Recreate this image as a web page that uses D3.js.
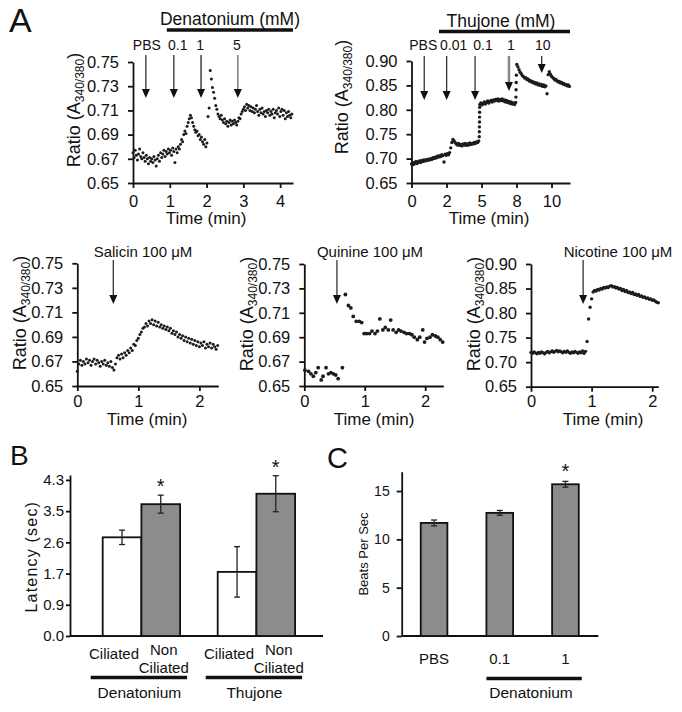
<!DOCTYPE html>
<html>
<head>
<meta charset="utf-8">
<script src="https://cdn.jsdelivr.net/npm/d3@7"></script>
<style>
  body { margin: 0; background: #fff; }
  svg { display: block; }
  text { font-family: "Liberation Sans", Arial, sans-serif; fill: #111; }
</style>
</head>
<body>
<svg id="fig" width="682" height="712"></svg>
<script>
// ---------- data: calcium traces (ratio A340/380, sampled at a fixed step in min) ----------
const denatStep = 0.03;
const denatRatio = [
  0.675,0.671,0.677,0.673,0.669,0.674,0.678,0.672,0.670,0.675,
  0.671,0.668,0.673,0.670,0.666,0.671,0.668,0.670,0.667,0.672,
  0.669,0.664,0.670,0.673,0.668,0.675,0.671,0.674,0.677,0.672,
  0.676,0.674,0.678,0.675,0.677,0.673,0.679,0.676,0.667,0.678,
  0.675,0.680,0.678,0.682,0.686,0.684,0.690,0.693,0.691,0.697,
  0.700,0.703,0.706,0.704,0.700,0.697,0.694,0.692,0.693,0.689,
  0.690,0.686,0.688,0.684,0.682,0.686,0.680,0.683,0.705,0.712,
  0.743,0.736,0.729,0.725,0.720,0.714,0.711,0.707,0.705,0.703,
  0.706,0.702,0.700,0.703,0.699,0.701,0.697,0.700,0.702,0.698,
  0.701,0.699,0.702,0.700,0.698,0.701,0.704,0.703,0.707,0.709,
  0.711,0.713,0.710,0.715,0.712,0.714,0.710,0.713,0.709,0.712,
  0.708,0.711,0.714,0.709,0.706,0.711,0.708,0.712,0.707,0.709,
  0.705,0.710,0.708,0.711,0.706,0.709,0.707,0.711,0.704,0.708,
  0.710,0.707,0.712,0.705,0.709,0.711,0.706,0.710,0.703,0.708,
  0.705,0.709,0.706,0.704,0.707
];
const denatArrowTimes = [0.35, 1.11, 1.85, 2.85];
const denatArrowLabels = ["PBS", "0.1", "1", "5"];

const thujStep = 0.08;
const thujRatio = [
  0.689,0.692,0.688,0.691,0.694,0.690,0.693,0.695,0.692,0.696,
  0.694,0.697,0.695,0.698,0.696,0.699,0.697,0.700,0.698,0.702,
  0.700,0.703,0.701,0.705,0.703,0.706,0.704,0.708,0.706,0.693,
  0.709,0.707,0.710,0.708,0.712,0.722,0.733,0.739,0.736,0.733,
  0.730,0.728,0.731,0.727,0.729,0.726,0.730,0.728,0.731,0.727,
  0.730,0.728,0.732,0.729,0.731,0.730,0.733,0.731,0.734,0.733,
  0.736,0.811,0.814,0.810,0.813,0.816,0.812,0.815,0.818,0.814,
  0.817,0.819,0.816,0.820,0.818,0.821,0.819,0.822,0.818,0.821,
  0.819,0.822,0.818,0.820,0.816,0.819,0.815,0.817,0.813,0.816,
  0.812,0.814,0.811,0.815,0.893,0.888,0.882,0.877,0.874,0.870,
  0.868,0.865,0.866,0.862,0.863,0.859,0.860,0.857,0.858,0.855,
  0.856,0.853,0.855,0.851,0.853,0.850,0.852,0.848,0.851,0.847,
  0.849,0.833,0.872,0.878,0.873,0.869,0.866,0.864,0.861,0.862,
  0.859,0.857,0.858,0.855,0.856,0.853,0.854,0.851,0.852,0.849,
  0.851,0.848
];
// fast samples recorded during the two step rises
const thujJumpTime  = [4.84, 4.845, 4.85, 4.855, 4.86, 4.865, 4.87, 7.46, 7.47, 7.48, 7.49];
const thujJumpRatio = [0.745, 0.755, 0.765, 0.775, 0.785, 0.795, 0.805, 0.826, 0.841, 0.856, 0.871];
const thujArrowTimes = [0.91, 2.51, 4.54, 6.96, 9.30];
const thujArrowLabels = ["PBS", "0.01", "0.1", "1", "10"];
const thujXTicks = [0, 2.5, 5, 7.5, 10];
const thujXTickLabels = ["0", "2", "5", "8", "10"];

const salicinStep = 0.025;
const salicinRatio = [
  0.662,0.668,0.671,0.667,0.670,0.668,0.672,0.669,0.671,0.667,
  0.670,0.672,0.668,0.671,0.669,0.666,0.670,0.668,0.671,0.667,
  0.669,0.666,0.670,0.665,0.663,0.668,0.673,0.675,0.672,0.676,
  0.673,0.677,0.675,0.679,0.677,0.681,0.679,0.684,0.683,0.687,
  0.689,0.692,0.694,0.697,0.698,0.701,0.699,0.703,0.701,0.704,
  0.700,0.703,0.699,0.702,0.698,0.700,0.697,0.699,0.696,0.698,
  0.695,0.697,0.693,0.695,0.692,0.694,0.690,0.692,0.689,0.691,
  0.687,0.690,0.686,0.689,0.685,0.688,0.684,0.687,0.683,0.686,
  0.682,0.685,0.683,0.686,0.681,0.684,0.682,0.685,0.681,0.684,
  0.682,0.680,0.683
];

const quinineTime = [
  0.01,0.07,0.11,0.15,0.19,0.23,0.28,0.31,0.36,0.40,0.44,0.48,0.52,0.56,0.63,
  0.68,0.73,0.77,0.81,0.86,0.91,0.95,0.99,1.03,1.08,1.12,1.17,1.21,1.25,1.30,
  1.34,1.39,1.43,1.47,1.52,1.56,1.60,1.65,1.69,1.74,1.78,1.82,1.87,1.91,1.96,
  1.99,2.03,2.08,2.12,2.17,2.21,2.25,2.29
];
const quinineRatio = [
  0.663,0.662,0.660,0.658,0.661,0.665,0.655,0.658,0.665,0.660,0.661,0.660,0.659,0.656,0.665,
  0.725,0.716,0.714,0.707,0.703,0.703,0.702,0.693,0.693,0.693,0.695,0.693,0.695,0.705,0.696,
  0.698,0.696,0.704,0.696,0.694,0.696,0.695,0.694,0.693,0.693,0.692,0.690,0.688,0.690,0.696,
  0.686,0.689,0.690,0.692,0.691,0.690,0.688,0.686
];

const nicotineStep = 0.025;
const nicotineRatio = [
  0.720,0.718,0.721,0.719,0.717,0.720,0.718,0.721,0.719,0.717,
  0.720,0.722,0.719,0.721,0.723,0.720,0.722,0.724,0.721,0.723,
  0.721,0.719,0.722,0.720,0.723,0.720,0.718,0.721,0.719,0.722,
  0.720,0.718,0.721,0.719,0.723,0.718,0.722,0.742,0.788,0.812,
  0.829,0.843,0.846,0.845,0.848,0.847,0.850,0.849,0.852,0.851,
  0.853,0.852,0.855,0.856,0.853,0.854,0.851,0.852,0.849,0.850,
  0.846,0.848,0.844,0.846,0.842,0.843,0.840,0.842,0.838,0.839,
  0.836,0.838,0.834,0.835,0.832,0.833,0.830,0.831,0.828,0.829,
  0.826,0.827,0.824,0.822,0.821
];

const ratioTicksLow  = [0.65, 0.67, 0.69, 0.71, 0.73, 0.75];
const ratioTicksHigh = [0.65, 0.70, 0.75, 0.80, 0.85, 0.90];

// ---------- data: panel B (latency) ----------
const latencyGroups = ["Denatonium", "Thujone"];
const latencyCells  = ["Ciliated", "Non Ciliated"];
const latencyMean = [[2.74, 3.66], [1.78, 3.95]];
const latencyErr  = [[0.20, 0.25], [0.70, 0.50]];
const latencySig  = [[false, true], [false, true]];
const latencyTicks = [0, 0.8667, 1.7333, 2.6, 3.4667, 4.3333];
const latencyTickLabels = ["0.0", "0.9", "1.7", "2.6", "3.5", "4.3"];

// ---------- data: panel C (beat frequency) ----------
const beatCats = ["PBS", "0.1", "1"];
const beatMean = [11.7, 12.74, 15.7];
const beatErr  = [0.30, 0.25, 0.30];
const beatSig  = [false, false, true];
const beatTicks = [0, 5, 10, 15];

// ---------- drawing ----------
const svg = d3.select("#fig");
const INK = "#111";
const DOT = "#1c1c1c";

function sampled(values, step) {
  return values.map((v, i) => [i * step, v]);
}

function arrow(g, x, yTop, yTip, color, width) {
  g.append("line")
    .attr("x1", x).attr("x2", x)
    .attr("y1", yTop).attr("y2", yTip - 7)
    .attr("stroke", color).attr("stroke-width", width);
  g.append("path")
    .attr("d", `M${x - 4},${yTip - 9}L${x + 4},${yTip - 9}L${x},${yTip}Z`)
    .attr("fill", INK);
}

function tracePanel(p) {
  const x = d3.scaleLinear().domain(p.xDomain).range(p.xRange);
  const y = d3.scaleLinear().domain(p.yDomain).range(p.yRange);
  const g = svg.append("g");

  const xAxis = d3.axisBottom(x).tickValues(p.xTicks).tickSize(5)
    .tickPadding(p.xPad).tickSizeOuter(0)
    .tickFormat((d, i) => p.xTickLabels ? p.xTickLabels[i] : d3.format("d")(d));
  const yAxis = d3.axisLeft(y).tickValues(p.yTicks).tickSize(5)
    .tickPadding(9).tickSizeOuter(0).tickFormat(d3.format(".2f"));

  const gx = g.append("g").attr("transform", `translate(0,${p.yRange[0]})`).call(xAxis);
  const gy = g.append("g").attr("transform", `translate(${p.xRange[0]},0)`).call(yAxis);
  [gx, gy].forEach(a => {
    a.selectAll(".domain, .tick line").attr("stroke", INK).attr("stroke-width", 1.8);
    a.selectAll(".tick text").attr("font-size", 16.5)
      .attr("font-family", "Liberation Sans, Arial, sans-serif").attr("fill", INK);
  });

  // points
  g.append("g").selectAll("circle")
    .data(p.points)
    .join("circle")
    .attr("cx", d => x(d[0]))
    .attr("cy", d => y(d[1]))
    .attr("r", p.r || 1.5)
    .attr("fill", DOT);

  // axis titles
  g.append("text")
    .attr("x", p.titleX).attr("y", p.titleY)
    .attr("text-anchor", "middle").attr("font-size", 17)
    .text("Time (min)");

  const yl = g.append("text")
    .attr("transform", `translate(${p.ylabX},${p.ylabY}) rotate(-90)`)
    .attr("text-anchor", "middle").attr("font-size", 18);
  yl.append("tspan").text("Ratio (A");
  yl.append("tspan").attr("font-size", 12).attr("dy", 4).text("340/380");
  yl.append("tspan").attr("dy", -4).text(")");

  // stimulus arrows
  p.arrows.forEach((t, i) => {
    const ax = x(t);
    const tip = p.arrowTips[i];
    arrow(g, ax, p.arrowTop, tip, p.arrowColors ? p.arrowColors[i] : "#333",
      p.arrowWidths ? p.arrowWidths[i] : 1.3);
    if (p.arrowLabels) {
      g.append("text")
        .attr("x", ax + (p.labelDx ? p.labelDx[i] : 0)).attr("y", p.labelY)
        .attr("text-anchor", "middle").attr("font-size", 14)
        .text(p.arrowLabels[i]);
    }
  });

  if (p.stimText) {
    g.append("text")
      .attr("x", p.stimX).attr("y", p.stimY)
      .attr("text-anchor", "middle").attr("font-size", 15)
      .text(p.stimText);
  }
  if (p.header) {
    g.append("text")
      .attr("x", p.headerX).attr("y", p.headerY)
      .attr("text-anchor", "middle").attr("font-size", 17.5)
      .text(p.header);
    g.append("line")
      .attr("x1", x(p.headerSpan[0])).attr("x2", x(p.headerSpan[1]))
      .attr("y1", p.headerBarY).attr("y2", p.headerBarY)
      .attr("stroke", INK).attr("stroke-width", 3.5);
  }
  return { x, y };
}

// Panel A, top row
tracePanel({
  points: sampled(denatRatio, denatStep),
  xDomain: [0, 4.35], xRange: [133, 293],
  yDomain: [0.65, 0.75], yRange: [183, 62],
  xTicks: [0, 1, 2, 3, 4], yTicks: ratioTicksLow, xPad: 7,
  titleX: 206, titleY: 224, ylabX: 80, ylabY: 110,
  arrows: denatArrowTimes, arrowLabels: denatArrowLabels,
  arrowTop: 55, arrowTips: [98, 98, 98, 98], labelY: 50, labelDx: [1, 4, -1, -1],
  arrowColors: ["#333", "#333", "#222", "#666"],
  header: "Denatonium (mM)", headerX: 230, headerY: 25,
  headerSpan: [0.92, 4.35], headerBarY: 30
});

tracePanel({
  points: sampled(thujRatio, thujStep).concat(thujJumpTime.map((t, i) => [t, thujJumpRatio[i]])),
  xDomain: [0, 11.32], xRange: [411.5, 570],
  yDomain: [0.65, 0.90], yRange: [183, 61],
  xTicks: thujXTicks, xTickLabels: thujXTickLabels, yTicks: ratioTicksHigh, xPad: 7,
  r: 1.7,
  titleX: 489, titleY: 224, ylabX: 348, ylabY: 97,
  arrows: thujArrowTimes, arrowLabels: thujArrowLabels,
  arrowTop: 56, arrowTips: [100, 100, 100, 91, 73], labelY: 50, labelDx: [-1, 7, 8, 2, 1],
  arrowColors: ["#333", "#333", "#333", "#8a8a8a", "#333"],
  arrowWidths: [1.3, 1.3, 1.3, 2.6, 1.3],
  header: "Thujone (mM)", headerX: 501, headerY: 27,
  headerSpan: [1.96, 11.32], headerBarY: 31.5
});

// Panel A, bottom row
tracePanel({
  points: sampled(salicinRatio, salicinStep),
  xDomain: [0, 2.31], xRange: [77.3, 218.3],
  yDomain: [0.65, 0.75], yRange: [386, 263.3],
  xTicks: [0, 1, 2], yTicks: ratioTicksLow, xPad: 4,
  titleX: 147, titleY: 425, ylabX: 26, ylabY: 313,
  arrows: [0.59], arrowTop: 260, arrowTips: [304],
  stimText: "Salicin 100 μM", stimX: 143, stimY: 257
});

tracePanel({
  points: quinineTime.map((t, i) => [t, quinineRatio[i]]),
  xDomain: [0, 2.3], xRange: [304.3, 443.3],
  yDomain: [0.65, 0.75], yRange: [386, 264],
  xTicks: [0, 1, 2], yTicks: ratioTicksLow, xPad: 4, r: 1.9,
  titleX: 374, titleY: 425, ylabX: 253, ylabY: 314,
  arrows: [0.54], arrowTop: 260, arrowTips: [304],
  stimText: "Quinine 100 μM", stimX: 370, stimY: 257
});

tracePanel({
  points: sampled(nicotineRatio, nicotineStep),
  xDomain: [0, 2.1], xRange: [531, 658.3],
  yDomain: [0.65, 0.90], yRange: [386.7, 264],
  xTicks: [0, 1, 2], yTicks: ratioTicksHigh, xPad: 4, r: 1.7,
  titleX: 603, titleY: 425, ylabX: 480, ylabY: 314,
  arrows: [0.86], arrowTop: 260, arrowTips: [304],
  stimText: "Nicotine 100 μM", stimX: 618, stimY: 257
});

// ---------- Panel B ----------
(function () {
  const g = svg.append("g");
  const y = d3.scaleLinear().domain([0, 4.47]).range([636, 475]);
  const gx0 = d3.scaleBand().domain(latencyGroups).range([83.9, 313.9])
    .paddingInner(0.327).paddingOuter(0.1635);
  const gx1 = d3.scaleBand().domain(latencyCells).range([0, gx0.bandwidth()]);

  const ya = g.append("g").attr("transform", "translate(70,0)")
    .call(d3.axisLeft(y).tickValues(latencyTicks).tickSize(4).tickPadding(2)
      .tickSizeOuter(0).tickFormat((d, i) => latencyTickLabels[i]));
  ya.selectAll(".domain, .tick line").attr("stroke", INK).attr("stroke-width", 1.8);
  ya.selectAll(".tick text").attr("font-size", 15)
    .attr("font-family", "DejaVu Sans, Verdana, sans-serif").attr("fill", INK);

  g.append("line").attr("x1", 70).attr("x2", 323).attr("y1", 636).attr("y2", 636)
    .attr("stroke", INK).attr("stroke-width", 1.8);

  latencyGroups.forEach((grp, gi) => {
    const x0 = gx0(grp);
    latencyCells.forEach((cell, ci) => {
      const bx = x0 + gx1(cell);
      const bw = gx1.bandwidth();
      const m = latencyMean[gi][ci], e = latencyErr[gi][ci];
      g.append("rect")
        .attr("x", bx).attr("y", y(m)).attr("width", bw).attr("height", y(0) - y(m))
        .attr("fill", ci === 0 ? "#ffffff" : "#8c8c8c")
        .attr("stroke", INK).attr("stroke-width", 1.8);
      const cx = bx + bw / 2;
      g.append("line").attr("x1", cx).attr("x2", cx).attr("y1", y(m + e)).attr("y2", y(m - e))
        .attr("stroke", "#222").attr("stroke-width", 1.3);
      [m + e, m - e].forEach(v => g.append("line")
        .attr("x1", cx - 3).attr("x2", cx + 3).attr("y1", y(v)).attr("y2", y(v))
        .attr("stroke", "#222").attr("stroke-width", 1.3));
      if (latencySig[gi][ci]) {
        g.append("text").attr("x", cx).attr("y", y(m + e) - 2)
          .attr("text-anchor", "middle").attr("font-size", 20).text("*");
      }
      const words = cell.split(" ");
      const lx = cx + (ci === 0 ? -8 : 3);
      if (words.length === 1) {
        g.append("text").attr("x", lx).attr("y", 659).attr("text-anchor", "middle")
          .attr("font-size", 15).text(cell);
      } else {
        words.forEach((w, wi) => g.append("text").attr("x", lx).attr("y", 655 + wi * 18)
          .attr("text-anchor", "middle").attr("font-size", 15).text(w));
      }
    });
    g.append("line")
      .attr("x1", x0 - 12).attr("x2", x0 + gx0.bandwidth() + 7)
      .attr("y1", 677.5).attr("y2", 677.5)
      .attr("stroke", INK).attr("stroke-width", 3.5);
    g.append("text").attr("x", x0 + gx0.bandwidth() / 2 - 2).attr("y", 698)
      .attr("text-anchor", "middle").attr("font-size", 15.5)
      .attr("font-family", "DejaVu Sans, Verdana, sans-serif").text(grp);
  });

  g.append("text")
    .attr("transform", "translate(37,556.7) rotate(-90)")
    .attr("text-anchor", "middle").attr("font-size", 16)
    .attr("letter-spacing", 1.2)
    .attr("font-family", "DejaVu Sans, Verdana, sans-serif")
    .text("Latency (sec)");
})();

// ---------- Panel C ----------
(function () {
  const g = svg.append("g");
  const y = d3.scaleLinear().domain([0, 17]).range([636, 471.7]);
  const x = d3.scaleBand().domain(beatCats).range([381.7, 617.8])
    .paddingInner(0.594).paddingOuter(0.594);

  const ya = g.append("g").attr("transform", "translate(401.7,0)")
    .call(d3.axisLeft(y).tickValues(beatTicks).tickSize(5).tickPadding(7)
      .tickSizeOuter(0).tickFormat(d3.format("d")));
  ya.selectAll(".domain, .tick line").attr("stroke", INK).attr("stroke-width", 1.8);
  ya.selectAll(".tick text").attr("font-size", 14)
    .attr("font-family", "DejaVu Sans, Verdana, sans-serif").attr("fill", INK);

  g.append("line").attr("x1", 401.7).attr("x2", 598.3).attr("y1", 636).attr("y2", 636)
    .attr("stroke", INK).attr("stroke-width", 1.8);

  beatCats.forEach((c, i) => {
    const bx = x(c), bw = x.bandwidth();
    const m = beatMean[i], e = beatErr[i];
    g.append("rect")
      .attr("x", bx).attr("y", y(m)).attr("width", bw).attr("height", y(0) - y(m))
      .attr("fill", "#8c8c8c").attr("stroke", INK).attr("stroke-width", 1.8);
    const cx = bx + bw / 2;
    g.append("line").attr("x1", cx).attr("x2", cx).attr("y1", y(m + e)).attr("y2", y(m - e))
      .attr("stroke", "#222").attr("stroke-width", 1.3);
    [m + e, m - e].forEach(v => g.append("line")
      .attr("x1", cx - 3).attr("x2", cx + 3).attr("y1", y(v)).attr("y2", y(v))
      .attr("stroke", "#222").attr("stroke-width", 1.3));
    if (beatSig[i]) {
      g.append("text").attr("x", cx).attr("y", y(m + e) - 3)
        .attr("text-anchor", "middle").attr("font-size", 20).text("*");
    }
    g.append("text").attr("x", cx).attr("y", 664).attr("text-anchor", "middle")
      .attr("font-size", 15).text(c);
  });

  g.append("line")
    .attr("x1", x("0.1")).attr("x2", x("1") + x.bandwidth() + 3)
    .attr("y1", 678.5).attr("y2", 678.5)
    .attr("stroke", INK).attr("stroke-width", 3.5);
  g.append("text").attr("x", 531).attr("y", 698).attr("text-anchor", "middle")
    .attr("font-size", 15.5).attr("font-family", "DejaVu Sans, Verdana, sans-serif")
    .text("Denatonium");

  g.append("text")
    .attr("transform", "translate(368,554) rotate(-90)")
    .attr("text-anchor", "middle").attr("font-size", 13)
    .attr("font-family", "DejaVu Sans, Verdana, sans-serif")
    .text("Beats Per Sec");
})();

// panel letters
[["A", 9, 32, 34], ["B", 10, 465, 28], ["C", 327, 468, 29]].forEach(([t, px, py, fs]) =>
  svg.append("text").attr("x", px).attr("y", py).attr("font-size", fs).text(t));
</script>
</body>
</html>
